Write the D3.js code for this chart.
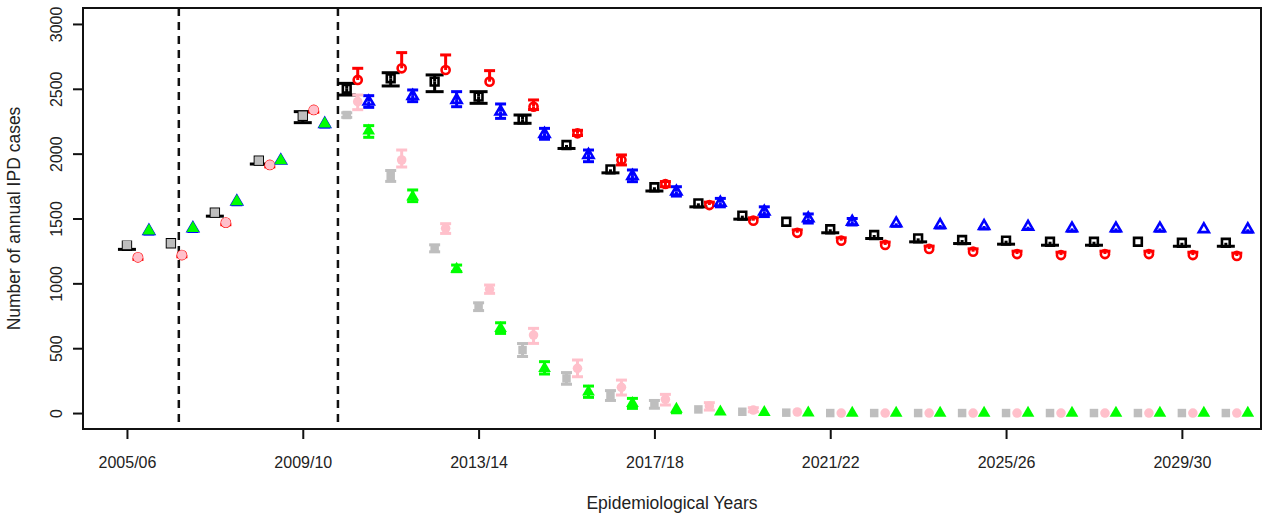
<!DOCTYPE html>
<html>
<head>
<meta charset="utf-8">
<script src="https://cdn.jsdelivr.net/npm/d3@7"></script>
<style>
  html, body { margin: 0; padding: 0; background: #fff; }
  svg { display: block; }
  text { font-family: "Liberation Sans", Arial, Helvetica, sans-serif; fill: #222; }
</style>
</head>
<body>
<svg id="chart" width="1273" height="516"></svg>
<script>
// ---------------- DATA ----------------
const years = ["2005/06","2006/07","2007/08","2008/09","2009/10","2010/11","2011/12","2012/13",
  "2013/14","2014/15","2015/16","2016/17","2017/18","2018/19","2019/20","2020/21","2021/22",
  "2022/23","2023/24","2024/25","2025/26","2026/27","2027/28","2028/29","2029/30","2030/31"];
const tickLabels = ["2005/06","2009/10","2013/14","2017/18","2021/22","2025/26","2029/30"];
const yTicks = [0, 500, 1000, 1500, 2000, 2500, 3000];
const vaccineLines = [1.18, 4.80];

// Scenario A (open markers)
const blackVal = [1290,1309,1545,1946,2290,2500,2581,2555,2440,2265,2067,1879,1741,1617,1522,1475,1417,1373,1347,1334,1329,1321,1321,1321,1313,1313];
const blackLo  = [1262,1309,1518,1920,2239,2452,2522,2478,2388,2234,2040,1852,1712,1590,1495,1475,1390,1346,1320,1307,1302,1294,1294,1321,1286,1286];
const blackHi  = [1290,1309,1545,1946,2324,2542,2624,2607,2478,2298,2067,1879,1741,1617,1522,1475,1417,1373,1347,1334,1329,1321,1321,1321,1313,1313];

const redVal = [1201,1218,1468,1913,2337,2568,2658,2645,2555,2362,2157,1951,1766,1604,1483,1390,1329,1296,1265,1244,1226,1218,1226,1226,1218,1211];
const redLo  = [1185,1205,1452,1898,2320,2568,2658,2645,2555,2340,2140,1913,1745,1604,1483,1390,1329,1296,1265,1244,1226,1218,1226,1226,1218,1211];
const redHi  = [1201,1218,1468,1913,2337,2658,2779,2761,2640,2414,2180,1990,1785,1626,1505,1412,1351,1318,1287,1266,1248,1240,1248,1248,1240,1233];

const blueVal = [1404,1424,1630,1946,2229,2401,2445,2414,2324,2152,1990,1828,1707,1622,1553,1501,1475,1463,1450,1442,1437,1424,1424,1424,1417,1417];
const blueLo  = [1380,1400,1606,1946,2205,2357,2401,2362,2272,2111,1938,1784,1673,1590,1515,1465,1450,1440,1427,1420,1415,1402,1402,1402,1417,1395];
const blueHi  = [1404,1424,1630,1946,2229,2447,2491,2478,2383,2195,2028,1874,1745,1655,1590,1535,1500,1463,1450,1442,1437,1424,1424,1424,1417,1417];

// Scenario B (filled markers)
const grayVal = [1296,1309,1545,1946,2293,2298,1828,1270,820,486,267,135,67,28,10,3,0,0,0,0,0,0,0,0,0,0];
const grayLo  = [1296,1309,1545,1946,2293,2280,1786,1243,790,436,222,97,37,28,10,3,0,0,0,0,0,0,0,0,0,0];
const grayHi  = [1296,1309,1545,1946,2293,2315,1870,1297,850,536,312,173,97,28,10,3,0,0,0,0,0,0,0,0,0,0];

const pinkVal = [1201,1218,1468,1913,2337,2401,1951,1424,954,601,345,198,106,54,23,8,0,0,0,0,0,0,0,0,0,0];
const pinkLo  = [1201,1218,1468,1913,2337,2339,1897,1385,923,537,280,139,62,23,10,8,0,0,0,0,0,0,0,0,0,0];
const pinkHi  = [1201,1218,1468,1913,2337,2452,2028,1460,987,653,409,254,144,80,41,8,0,0,0,0,0,0,0,0,0,0];

const greenVal = [1404,1424,1630,1946,2229,2175,1668,1110,653,345,164,75,31,10,5,2,0,0,0,0,0,0,0,0,0,0];
const greenLo  = [1404,1424,1630,1946,2229,2126,1630,1090,614,301,121,36,2,10,5,2,0,0,0,0,0,0,0,0,0,0];
const greenHi  = [1404,1424,1630,1946,2229,2216,1720,1141,696,396,208,113,31,10,5,2,0,0,0,0,0,0,0,0,0,0];

// ---------------- LAYOUT ----------------
const W = 1273, H = 516;
const plot = { left: 83, right: 1261, top: 8, bottom: 429 };
const svg = d3.select("#chart");
svg.append("rect").attr("width", W).attr("height", H).attr("fill", "#fff");

const x = d3.scaleLinear().domain([-1.0, 25.8]).range([plot.left, plot.right]);
const y = d3.scaleLinear().domain([-123, 3123]).range([plot.bottom, plot.top]);

// axes
const yAxis = svg.append("g").attr("transform", `translate(${plot.left},0)`)
  .call(d3.axisLeft(y).tickValues(yTicks).tickSize(10).tickPadding(0).tickFormat(d3.format("d")));
yAxis.select(".domain").attr("d", `M0,${y(0)}V${y(3000)}`).attr("stroke", "#111").attr("stroke-width", 2);
yAxis.selectAll(".tick line").attr("stroke", "#111").attr("stroke-width", 2);
yAxis.selectAll(".tick text")
  .attr("x", null).attr("dy", null)
  .attr("transform", "translate(-21,0) rotate(-90)")
  .attr("text-anchor", "middle")
  .style("font-size", "16px").style("font-family", "'Liberation Sans', Arial, sans-serif").attr("fill", "#222");

const xTickIdx = tickLabels.map(l => years.indexOf(l));
const xAxis = svg.append("g").attr("transform", `translate(0,${plot.bottom})`)
  .call(d3.axisBottom(x).tickValues(xTickIdx).tickSize(10).tickFormat((d, i) => tickLabels[i]));
xAxis.select(".domain").attr("stroke", "none");
xAxis.selectAll(".tick line").attr("stroke", "#111").attr("stroke-width", 2);
xAxis.selectAll(".tick text").attr("y", 39).attr("dy", null)
  .style("font-size", "16px").style("font-family", "'Liberation Sans', Arial, sans-serif").attr("fill", "#222");

// box
svg.append("rect")
  .attr("x", plot.left).attr("y", plot.top)
  .attr("width", plot.right - plot.left).attr("height", plot.bottom - plot.top)
  .attr("fill", "none").attr("stroke", "#111").attr("stroke-width", 2);

// titles
svg.append("text").attr("x", (plot.left + plot.right) / 2).attr("y", 509)
  .attr("text-anchor", "middle").style("font-size", "17.5px").text("Epidemiological Years");
svg.append("text").attr("transform", `translate(20,${(plot.top + plot.bottom) / 2}) rotate(-90)`)
  .attr("text-anchor", "middle").style("font-size", "17.5px").text("Number of annual IPD cases");

// vertical dashed lines
svg.append("g").selectAll("line").data(vaccineLines).join("line")
  .attr("x1", d => x(d)).attr("x2", d => x(d))
  .attr("y1", plot.top).attr("y2", plot.bottom)
  .attr("stroke", "#111").attr("stroke-width", 2.5).attr("stroke-dasharray", "8,6");

// ---------------- SERIES ----------------
const series = [
  { val: blackVal, lo: blackLo, hi: blackHi, color: "#000000", off: 0.00, shape: "square",   filled: false, cap: 18 },
  { val: redVal,   lo: redLo,   hi: redHi,   color: "#FF0000", off: 0.25, shape: "circle",   filled: false, cap: 11 },
  { val: blueVal,  lo: blueLo,  hi: blueHi,  color: "#0000FF", off: 0.50, shape: "triangle", filled: false, cap: 11 },
  { val: grayVal,  lo: grayLo,  hi: grayHi,  color: "#BEBEBE", off: 0.00, shape: "square",   filled: true,  cap: 11 },
  { val: pinkVal,  lo: pinkLo,  hi: pinkHi,  color: "#FFC0CB", off: 0.25, shape: "circle",   filled: true,  cap: 11 },
  { val: greenVal, lo: greenLo, hi: greenHi, color: "#00FF00", off: 0.50, shape: "triangle", filled: true,  cap: 11 }
];

const symType = { square: d3.symbolSquare, circle: d3.symbolCircle, triangle: d3.symbolTriangle };
const openSize = { square: 60, circle: 52, triangle: 44 };
const fillSize = { square: 72, circle: 72, triangle: 70 };

series.forEach(s => {
  const g = svg.append("g");
  const pts = s.val.map((v, i) => ({ i, v, lo: s.lo[i], hi: s.hi[i] }));
  // error bars: two half-arrows from point to lo and to hi (skipped when zero length)
  pts.forEach(p => {
    const cx = x(p.i + s.off), cy = y(p.v);
    [p.lo, p.hi].forEach(e => {
      const ey = y(e);
      if (Math.abs(ey - cy) < 0.5) return;
      g.append("line").attr("x1", cx).attr("x2", cx).attr("y1", cy).attr("y2", ey)
        .attr("stroke", s.color).attr("stroke-width", 3);
      g.append("line").attr("x1", cx - s.cap / 2).attr("x2", cx + s.cap / 2).attr("y1", ey).attr("y2", ey)
        .attr("stroke", s.color).attr("stroke-width", 3);
    });
  });
  g.selectAll("path.pt").data(pts).join("path").attr("class", "pt")
    .attr("d", d3.symbol().type(symType[s.shape]).size(s.filled ? fillSize[s.shape] : openSize[s.shape]))
    .attr("transform", p => `translate(${x(p.i + s.off)},${y(p.v)})`)
    .attr("fill", s.filled ? s.color : "none")
    .attr("stroke", s.filled ? "none" : s.color)
    .attr("stroke-width", s.filled ? 0 : 2.6);
});
</script>
</body>
</html>
